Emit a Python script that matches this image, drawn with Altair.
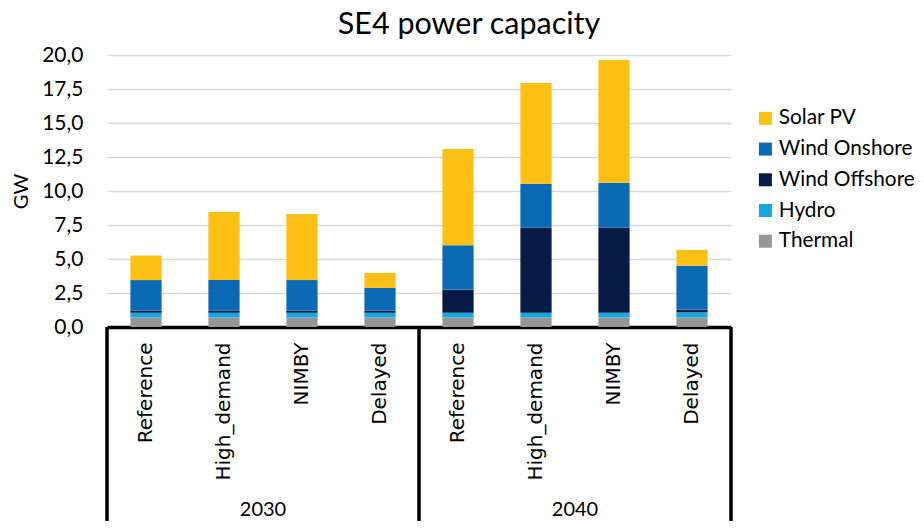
import altair as alt
import pandas as pd

# ---- data ----
years = ["2030", "2030", "2030", "2030", "2040", "2040", "2040", "2040"]
scenarios = ["Reference", "High_demand", "NIMBY", "Delayed",
             "Reference", "High_demand", "NIMBY", "Delayed"]
technologies = ["Solar PV", "Wind Onshore", "Wind Offshore", "Hydro", "Thermal"]
colors = ["#FCBF14", "#0A6AB4", "#061A45", "#14A8E0", "#969696"]

thermal = [0.70, 0.70, 0.70, 0.70, 0.70, 0.70, 0.70, 0.70]
hydro = [0.35, 0.35, 0.35, 0.35, 0.35, 0.35, 0.35, 0.38]
wind_offshore = [0.15, 0.15, 0.15, 0.15, 1.70, 6.25, 6.25, 0.20]
wind_onshore = [2.25, 2.25, 2.25, 1.67, 3.26, 3.24, 3.30, 3.23]
solar_pv = [1.80, 5.00, 4.85, 1.10, 7.07, 7.40, 9.03, 1.16]

y_ticks = [0, 2.5, 5, 7.5, 10, 12.5, 15, 17.5, 20]

series = {
    "Thermal": thermal,
    "Hydro": hydro,
    "Wind Offshore": wind_offshore,
    "Wind Onshore": wind_onshore,
    "Solar PV": solar_pv,
}
stack_rank = {name: i for i, name in enumerate(series)}

keys = [f"{y}|{s}" for y, s in zip(years, scenarios)]
rows = []
for tech, vals in series.items():
    for k, y, s, v in zip(keys, years, scenarios, vals):
        rows.append({"key": k, "year": y, "scenario": s, "tech": tech,
                     "value": v, "rank": stack_rank[tech]})
df = pd.DataFrame(rows)

# group dividers and group centres, derived from the year list
groups = []
for y in years:
    if y not in groups:
        groups.append(y)
counts = [years.count(g) for g in groups]
edges = [0]
for c in counts:
    edges.append(edges[-1] + c)
centers = [(edges[i] + edges[i + 1]) / 2 for i in range(len(groups))]
n = len(years)

W, H = 624, 272

bars = alt.Chart(df).mark_bar().encode(
    x=alt.X("key:N", sort=keys,
            scale=alt.Scale(paddingInner=0.6, paddingOuter=0.3),
            axis=alt.Axis(title=None,
                          labelExpr="split(datum.label, '|')[1]",
                          labelAngle=-90, labelAlign="right", labelBaseline="middle",
                          labelFont="DejaVu Sans", labelFontSize=20, labelColor="black",
                          labelPadding=15, ticks=False, tickSize=0,
                          labelOverlap=False,
                          domainColor="black", domainWidth=3.5, grid=False)),
    y=alt.Y("value:Q", stack="zero",
            scale=alt.Scale(domain=[0, 20], nice=False),
            axis=alt.Axis(title="GW", values=y_ticks,
                          labelExpr="replace(format(datum.value, '.1f'), '.', ',')",
                          labelFont="Lato", labelFontSize=21, labelColor="black",
                          labelPadding=24, ticks=False, tickSize=0, domain=False,
                          grid=True, gridColor="#d9d9d9", gridWidth=1.5,
                          titleFont="Lato", titleFontSize=20, titleFontWeight="normal",
                          titleColor="black", titlePadding=10)),
    color=alt.Color("tech:N",
                    scale=alt.Scale(domain=technologies, range=colors),
                    legend=alt.Legend(title=None, orient="none", legendX=648, legendY=53,
                                      symbolType="square", symbolSize=169,
                                      symbolStrokeWidth=0,
                                      labelFont="Lato", labelFontSize=20.8,
                                      labelColor="black", rowPadding=8.7,
                                      labelOffset=3, labelLimit=200)),
    order=alt.Order("rank:Q"),
)

pos_scale = alt.Scale(domain=[0, n], nice=False, zero=True)

dividers = alt.Chart(pd.DataFrame({"pos": edges})).mark_rule(
    color="black", strokeWidth=3.5
).encode(
    x=alt.X("pos:Q", scale=pos_scale, axis=None),
    y=alt.value(H),
    y2=alt.value(H + 215),
)

year_text = alt.Chart(pd.DataFrame({"pos": centers, "year": groups})).mark_text(
    font="Lato", fontSize=20, color="black", baseline="middle"
).encode(
    x=alt.X("pos:Q", scale=pos_scale, axis=None),
    y=alt.value(H + 183),
    text="year:N",
)

chart = alt.layer(bars, dividers, year_text).resolve_scale(
    x="independent"
).properties(
    width=W, height=H,
    title=alt.TitleParams("SE4 power capacity", font="Lato", fontSize=30.5,
                          fontWeight="normal", color="black",
                          anchor="middle", dx=50, offset=4),
    autosize=alt.AutoSizeParams(type="none"),
    padding={"left": 99, "top": 47, "right": 185, "bottom": 194},
).configure_view(stroke=None)

chart.save("out.html", embed_options={"renderer": "svg", "actions": False})
